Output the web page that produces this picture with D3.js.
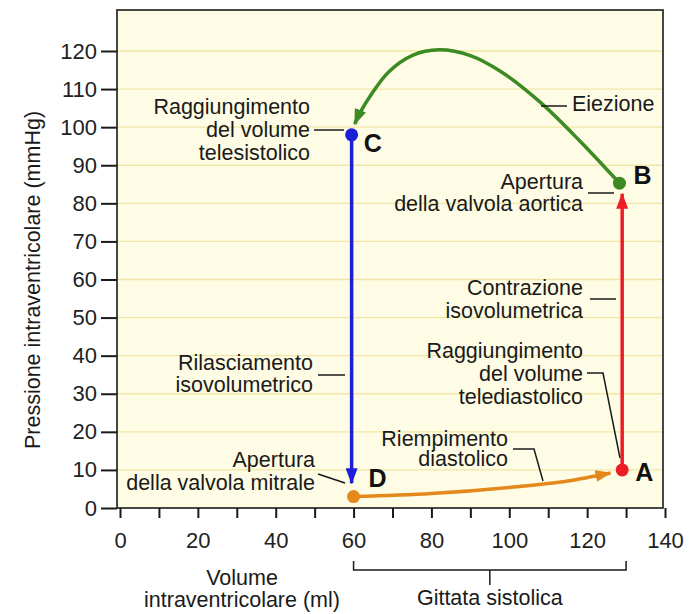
<!DOCTYPE html>
<html>
<head>
<meta charset="utf-8">
<script src="https://cdn.jsdelivr.net/npm/d3@7"></script>
<style>
  body { margin: 0; background: #fff; }
  svg { display: block; font-family: "Liberation Sans", Arial, sans-serif; }
  .ann { font-size: 21.5px; fill: #1a1a1a; }
  .pt { font-size: 25px; font-weight: bold; fill: #111; }
  .tick text { font-size: 22px; fill: #222; font-family: "Liberation Sans", Arial, sans-serif; }
</style>
</head>
<body>
<svg></svg>
<script>
// cardiac pressure-volume loop (volume ml, pressure mmHg)
const xTicks = [0, 10, 20, 30, 40, 50, 60, 70, 80, 90, 100, 110, 120, 130, 140];
const xTickLabels = [0, 20, 40, 60, 80, 100, 120, 140];
const yTicks = [0, 10, 20, 30, 40, 50, 60, 70, 80, 90, 100, 110, 120];
const gridValues = [10, 20, 30, 40, 50, 60, 70, 80, 90, 100, 110, 120];

const pointNames = ['A', 'B', 'C', 'D'];
const pointVolume = [129, 128.3, 59.5, 60];
const pointPressure = [10, 85.3, 98, 3];

// contrazione isovolumetrica A -> B
const contractionVol = [129, 129];
const contractionPress = [10, 82.5];
// eiezione B -> C
const ejectionVol = [128.3, 118, 108, 98, 90, 82, 75, 69, 64.5, 61.5, 60.3];
const ejectionPress = [85.3, 96.5, 106.5, 114.5, 118.8, 120.3, 118.8, 114.5, 108.5, 103.5, 100.8];
// rilasciamento isovolumetrico C -> D
const relaxVol = [59.5, 59.5];
const relaxPress = [98, 6.5];
// riempimento diastolico D -> A
const fillVol = [60, 80, 100, 115, 126];
const fillPress = [3, 3.8, 5.4, 7.1, 9.2];

const yTitle = 'Pressione intraventricolare (mmHg)';
const xTitle = ['Volume', 'intraventricolare (ml)'];
const bracketLabel = 'Gittata sistolica';
const bracketRange = [60, 130];

const labelTexts = {
  telesist: ['Raggiungimento', 'del volume', 'telesistolico'],
  eiezione: ['Eiezione'],
  aortica: ['Apertura', 'della valvola aortica'],
  contrazione: ['Contrazione', 'isovolumetrica'],
  telediast: ['Raggiungimento', 'del volume', 'telediastolico'],
  riempimento: ['Riempimento', 'diastolico'],
  rilasciamento: ['Rilasciamento', 'isovolumetrico'],
  mitrale: ['Apertura', 'della valvola mitrale']
};

const width = 693;
const height = 614;

const xScale = d3.scaleLinear().domain([0, 140]).range([120, 665]);
const yScale = d3.scaleLinear().domain([0, 120]).range([508, 51]);

const svg = d3.select('svg')
  .attr('width', width)
  .attr('height', height);

const colors = { green: '#3b8b22', blue: '#1c1fd8', red: '#ee1d25', orange: '#e4881c' };

// arrow markers
const defs = svg.append('defs');
Object.entries(colors).forEach(([name, c]) => {
  defs.append('marker')
      .attr('id', 'arrow-' + name)
      .attr('markerUnits', 'userSpaceOnUse')
      .attr('viewBox', '0 0 16 12')
      .attr('refX', 15)
      .attr('refY', 6)
      .attr('markerWidth', 16)
      .attr('markerHeight', 12)
      .attr('orient', 'auto')
    .append('path')
      .attr('d', 'M0,0 L16,6 L0,12 Z')
      .attr('fill', c);
});

// frame background
const frame = { left: 117, top: 10, right: 663, bottom: 508 };
svg.append('rect')
    .attr('x', frame.left)
    .attr('y', frame.top)
    .attr('width', frame.right - frame.left)
    .attr('height', frame.bottom - frame.top)
    .attr('fill', '#fefce4');

svg.append('g')
  .selectAll('line')
  .data(gridValues)
  .enter()
  .append('line')
    .attr('x1', frame.left)
    .attr('x2', frame.right)
    .attr('y1', (d) => yScale(d))
    .attr('y2', (d) => yScale(d))
    .attr('stroke', '#f1e6a6')
    .attr('stroke-width', 1.3);

svg.append('rect')
    .attr('x', frame.left)
    .attr('y', frame.top)
    .attr('width', frame.right - frame.left)
    .attr('height', frame.bottom - frame.top)
    .attr('fill', 'none')
    .attr('stroke', '#1a1a1a')
    .attr('stroke-width', 1.6);

// axes
const yAxis = d3.axisLeft(yScale)
  .tickValues(yTicks)
  .tickSize(16)
  .tickPadding(4)
  .tickSizeOuter(0);

svg.append('g')
    .attr('transform', `translate(${frame.left}, 0)`)
    .call(yAxis)
    .call((g) => g.select('.domain').remove())
    .call((g) => g.selectAll('.tick line').attr('stroke', '#1a1a1a').attr('stroke-width', 2));

const xAxis = d3.axisBottom(xScale)
  .tickValues(xTicks)
  .tickSize(10)
  .tickPadding(14)
  .tickFormat((d) => xTickLabels.includes(d) ? d : '')
  .tickSizeOuter(0);

svg.append('g')
    .attr('transform', `translate(0, ${frame.bottom})`)
    .call(xAxis)
    .call((g) => g.select('.domain').remove())
    .call((g) => g.selectAll('.tick line').attr('stroke', '#1a1a1a').attr('stroke-width', 2));

// curves
const line = d3.line()
  .x((d) => xScale(d[0]))
  .y((d) => yScale(d[1]));

const segments = [
  { vol: fillVol, press: fillPress, color: 'orange', curve: d3.curveMonotoneX },
  { vol: relaxVol, press: relaxPress, color: 'blue', curve: d3.curveLinear },
  { vol: contractionVol, press: contractionPress, color: 'red', curve: d3.curveLinear },
  { vol: ejectionVol, press: ejectionPress, color: 'green', curve: d3.curveCatmullRom }
];

svg.append('g')
  .selectAll('path')
  .data(segments)
  .enter()
  .append('path')
    .attr('d', (s) => line.curve(s.curve)(d3.zip(s.vol, s.press)))
    .attr('fill', 'none')
    .attr('stroke', (s) => colors[s.color])
    .attr('stroke-width', 3.5)
    .attr('marker-end', (s) => `url(#arrow-${s.color})`);

const pointColors = [colors.red, colors.green, colors.blue, colors.orange];
svg.append('g')
  .selectAll('circle')
  .data(pointNames)
  .enter()
  .append('circle')
    .attr('cx', (d, i) => xScale(pointVolume[i]))
    .attr('cy', (d, i) => yScale(pointPressure[i]))
    .attr('r', 6.5)
    .attr('fill', (d, i) => pointColors[i]);

// point letters
const letterOffset = { A: [13, 4], B: [14, -6], C: [12, 11], D: [15, -16] };
svg.append('g')
  .selectAll('text')
  .data(pointNames)
  .enter()
  .append('text')
    .attr('class', 'pt')
    .attr('x', (d, i) => xScale(pointVolume[i]) + letterOffset[d][0])
    .attr('y', (d, i) => yScale(pointPressure[i]) + letterOffset[d][1])
    .attr('dominant-baseline', 'middle')
    .text((d) => d);

// annotations
function annotate(lines, x, yFirst, anchor, lh = 23) {
  const t = svg.append('text')
      .attr('class', 'ann')
      .attr('text-anchor', anchor);
  lines.forEach((s, i) => {
    t.append('tspan')
        .attr('x', x)
        .attr('y', yFirst + i * lh)
        .text(s);
  });
}

function leader(points) {
  svg.append('path')
      .attr('d', d3.line()(points))
      .attr('fill', 'none')
      .attr('stroke', '#1a1a1a')
      .attr('stroke-width', 1.5);
}

annotate(labelTexts.telesist, 310, 114, 'end');
leader([[314, 130], [344, 130]]);

annotate(labelTexts.eiezione, 572, 111, 'start');
leader([[541, 106], [567, 106]]);

annotate(labelTexts.aortica, 583, 189, 'end', 22);
leader([[588, 193], [614, 193]]);

annotate(labelTexts.contrazione, 583, 295, 'end', 23);
leader([[590, 299], [616, 299]]);

annotate(labelTexts.telediast, 583, 358, 'end', 23);
leader([[587, 373], [603, 373], [620, 458]]);

annotate(labelTexts.riempimento, 508, 446, 'end', 20);
leader([[513, 449], [534, 449], [543, 481]]);

annotate(labelTexts.rilasciamento, 313, 370, 'end', 22);
leader([[318, 375], [345, 375]]);

annotate(labelTexts.mitrale, 315, 467, 'end', 23);
leader([[318, 474], [345, 483]]);

// axis titles
svg.append('text')
    .attr('class', 'ann')
    .attr('transform', 'translate(40, 280) rotate(-90)')
    .attr('text-anchor', 'middle')
    .text(yTitle);

xTitle.forEach((s, i) => {
  svg.append('text')
      .attr('class', 'ann')
      .attr('x', 242)
      .attr('y', 585 + i * 22)
      .attr('text-anchor', 'middle')
      .text(s);
});

// bracket for stroke volume
const bx0 = xScale(bracketRange[0]);
const bx1 = xScale(bracketRange[1]);
leader([[bx0, 561], [bx0, 570], [bx1, 570], [bx1, 561]]);
leader([[(bx0 + bx1) / 2, 570], [(bx0 + bx1) / 2, 585]]);
svg.append('text')
    .attr('class', 'ann')
    .attr('x', (bx0 + bx1) / 2)
    .attr('y', 605)
    .attr('text-anchor', 'middle')
    .text(bracketLabel);
</script>
</body>
</html>
